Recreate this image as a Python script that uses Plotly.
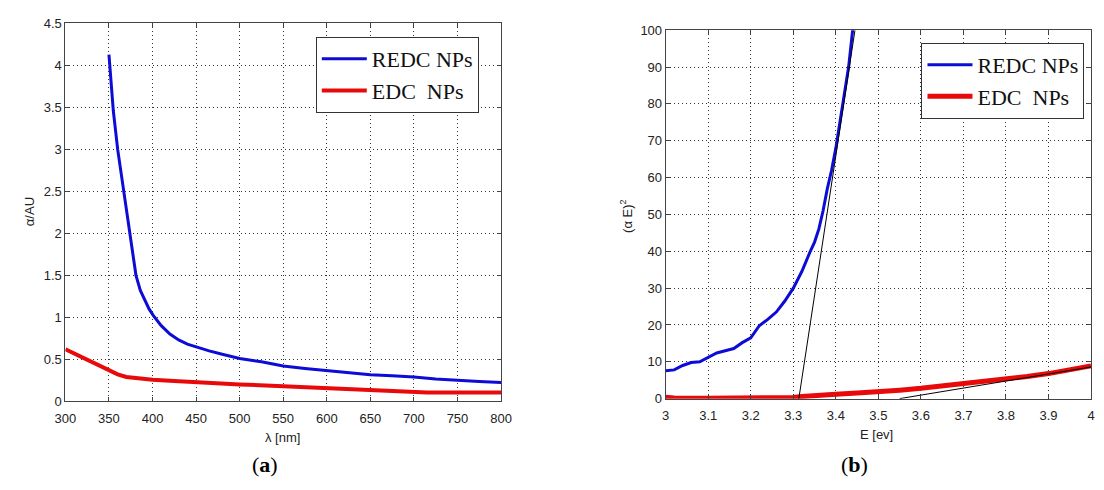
import plotly.graph_objects as go

# ---------- data (a) ----------
wl_redc = [350, 351, 355, 360, 367, 374, 381, 386, 391, 396, 401, 410, 420, 430, 440, 450,
           465, 480, 500, 525, 550, 575, 600, 625, 650, 675, 700, 725, 750, 775, 800]
a_redc = [4.13, 4.0, 3.46, 3.0, 2.5, 2.03, 1.5, 1.32, 1.2, 1.1, 1.02, 0.9, 0.8, 0.73, 0.68, 0.645,
          0.6, 0.56, 0.51, 0.47, 0.42, 0.39, 0.366, 0.34, 0.316, 0.305, 0.29, 0.265, 0.247, 0.235, 0.224]
wl_edc = [300, 310, 320, 330, 340, 350, 360, 370, 380, 390, 400, 425, 450, 475, 500, 550, 600, 650,
          700, 715, 750, 800]
a_edc = [0.62, 0.57, 0.52, 0.46, 0.41, 0.365, 0.32, 0.29, 0.275, 0.265, 0.255, 0.24, 0.225, 0.21,
         0.2, 0.18, 0.16, 0.14, 0.12, 0.105, 0.105, 0.105]

# ---------- data (b) ----------
e_redc = [3.00, 3.02, 3.04, 3.06, 3.08, 3.10, 3.12, 3.14, 3.16, 3.18, 3.20, 3.22, 3.24, 3.26, 3.28,
          3.30, 3.32, 3.34, 3.35, 3.36, 3.37, 3.38, 3.39, 3.40, 3.41, 3.42, 3.43, 3.44]
ae_redc = [7.6, 7.8, 9.0, 9.8, 10.0, 11.3, 12.4, 13.0, 13.6, 15.2, 16.5, 19.8, 21.5, 23.5, 26.5,
           30.0, 34.5, 40.0, 42.5, 46.0, 51.0, 57.0, 62.0, 68.0, 75.0, 82.0, 90.0, 100.5]
e_edc = [3.00, 3.02, 3.1, 3.2, 3.28, 3.30, 3.32, 3.35, 3.40, 3.45, 3.50, 3.55, 3.60, 3.65, 3.70,
         3.75, 3.80, 3.85, 3.90, 3.95, 4.00]
ae_edc = [0.4, 0.2, 0.1, 0.1, 0.1, 0.3, 0.6, 0.9, 1.2, 1.5, 1.8, 2.3, 2.8, 3.4, 4.0, 4.6, 5.3,
          6.0, 6.8, 7.8, 8.9]
tan1_x = [3.313, 3.445]
tan1_y = [0, 100]
tan2_x = [3.55, 4.0]
tan2_y = [0, 8.6]

BLUE = "#0c0cd6"
RED = "#e80a0a"
W, H = 1104, 490

fig = go.Figure()
fig.add_trace(go.Scatter(x=wl_redc, y=a_redc, mode="lines", name="REDC NPs",
                         line=dict(color=BLUE, width=3), xaxis="x", yaxis="y", legend="legend"))
fig.add_trace(go.Scatter(x=wl_edc, y=a_edc, mode="lines", name="EDC\u00a0\u00a0NPs",
                         line=dict(color=RED, width=4), xaxis="x", yaxis="y", legend="legend"))

fig.add_trace(go.Scatter(x=e_redc, y=ae_redc, mode="lines", name="REDC NPs",
                         line=dict(color=BLUE, width=3), xaxis="x2", yaxis="y2", legend="legend2"))
fig.add_trace(go.Scatter(x=e_edc, y=ae_edc, mode="lines", name="EDC\u00a0\u00a0NPs",
                         line=dict(color=RED, width=5), xaxis="x2", yaxis="y2", legend="legend2"))
fig.add_trace(go.Scatter(x=tan1_x, y=tan1_y, mode="lines", showlegend=False,
                         line=dict(color="black", width=1), xaxis="x2", yaxis="y2"))
fig.add_trace(go.Scatter(x=tan2_x, y=tan2_y, mode="lines", showlegend=False,
                         line=dict(color="black", width=1), xaxis="x2", yaxis="y2"))

tickfont = dict(family="Liberation Sans, Arial, sans-serif", size=13, color="#222")
common = dict(showgrid=True, gridcolor="#333", griddash="1px,3px", gridwidth=1,
              showline=True, linecolor="#444", linewidth=1, mirror="ticks",
              ticks="inside", ticklen=4, tickcolor="#444", tickfont=tickfont,
              zeroline=False)

def px_x(x):
    return x / W

def px_y(y):
    return 1 - y / H

legfont = dict(family="Liberation Serif, Times New Roman, serif", size=22, color="#111")
fig.update_layout(
    width=W, height=H, margin=dict(l=0, r=0, t=0, b=0),
    paper_bgcolor="white", plot_bgcolor="white",
    xaxis=dict(domain=[px_x(55.5), px_x(500)], range=[300, 800], dtick=50, anchor="y",
               ticklabelstandoff=5, **common),
    yaxis=dict(domain=[px_y(406.7), px_y(17)], range=[0, 4.5], dtick=0.5, anchor="x", **common),
    xaxis2=dict(domain=[px_x(668), px_x(1102)], range=[3, 4], dtick=0.1, anchor="y2",
                ticklabelstandoff=5, **common),
    yaxis2=dict(domain=[px_y(404), px_y(24)], range=[0, 100], dtick=10, anchor="x2", **common),
    legend=dict(x=px_x(311), y=px_y(31), xanchor="left", yanchor="top",
                bordercolor="#333", borderwidth=1, bgcolor="white",
                font=legfont, tracegroupgap=0, itemwidth=45),
    legend2=dict(x=px_x(929), y=px_y(37), xanchor="left", yanchor="top",
                 bordercolor="#333", borderwidth=1, bgcolor="white",
                 font=legfont, tracegroupgap=0, itemwidth=45),
    showlegend=True,
)

lab = dict(family="Liberation Sans, Arial, sans-serif", size=13, color="#222")
ann = [
    dict(text="α/AU", x=px_x(19), y=px_y(211), textangle=-90, font=lab),
    dict(text="λ [nm]", x=px_x(277), y=px_y(444), font=lab),
    dict(text="E [ev]", x=px_x(883), y=px_y(441), font=lab),
    dict(text="(α E)<sup>2</sup>", x=px_x(628), y=px_y(215), textangle=-90, font=lab),
    dict(text="(<b>a</b>)", x=px_x(259), y=px_y(472),
         font=dict(family="Liberation Serif, Times New Roman, serif", size=22, color="black")),
    dict(text="(<b>b</b>)", x=px_x(861), y=px_y(472),
         font=dict(family="Liberation Serif, Times New Roman, serif", size=22, color="black")),
]
for a in ann:
    a.update(xref="paper", yref="paper", showarrow=False, xanchor="center", yanchor="middle")
fig.update_layout(annotations=ann)

fig.write_html("out.html")
